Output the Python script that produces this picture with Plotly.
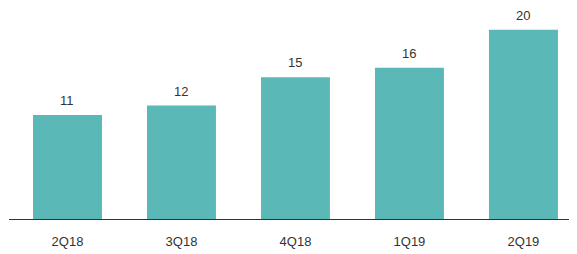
import plotly.graph_objects as go

categories = ["2Q18", "3Q18", "4Q18", "1Q19", "2Q19"]
values = [11, 12, 15, 16, 20]

fig = go.Figure(go.Bar(
    x=categories, y=values,
    marker=dict(color="#5AB8B7", line=dict(width=0)),
    width=0.605, cliponaxis=False,
))

for c, v in zip(categories, values):
    fig.add_annotation(x=c, y=v, text=str(v), showarrow=False, yanchor="bottom", yshift=5,
                       font=dict(family="Liberation Sans, Arial, sans-serif", size=13, color="#333333"))

fig.update_layout(
    width=577, height=254,
    margin=dict(l=1, r=0, t=2, b=43),
    paper_bgcolor="white", plot_bgcolor="white",
    showlegend=False,
    font=dict(family="Liberation Sans, Arial, sans-serif", size=13, color="#333333"),
    xaxis=dict(range=[-0.513, 4.54], showline=True, linecolor="#333333", linewidth=1,
               showgrid=False, zeroline=False, ticks="", ticklabelstandoff=10,
               tickfont=dict(size=13, color="#333333")),
    yaxis=dict(range=[0, 22.1], visible=False, showgrid=False, zeroline=False),
)

fig.write_html("out.html")
